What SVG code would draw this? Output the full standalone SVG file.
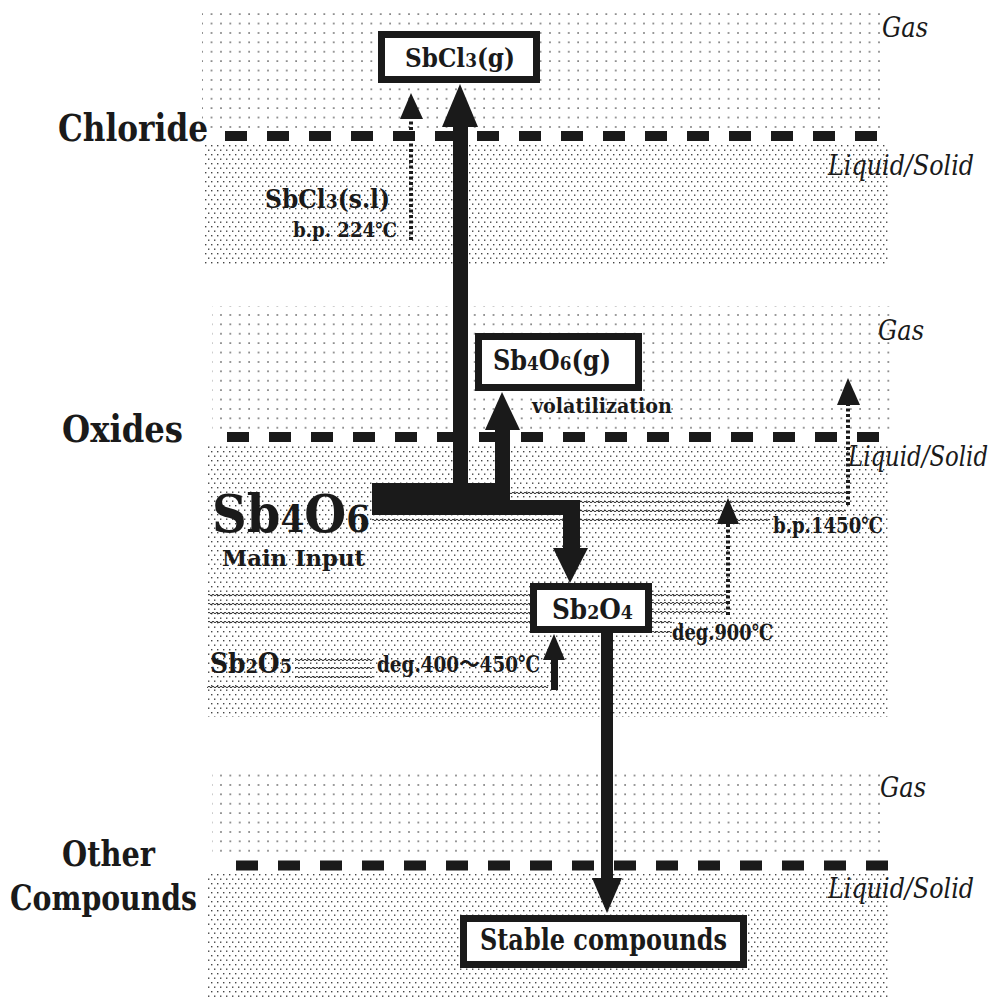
<svg xmlns="http://www.w3.org/2000/svg" width="1002" height="1004" viewBox="0 0 1002 1004">
<defs>
<pattern id="gas" width="9.4" height="9.4" patternUnits="userSpaceOnUse"><rect x="4" y="4" width="1.5" height="1.5" fill="#555"/></pattern>
<pattern id="liq" width="6" height="9" patternUnits="userSpaceOnUse"><rect x="1" y="1" width="1.4" height="1.4" fill="#444"/><rect x="4" y="5.5" width="1.4" height="1.4" fill="#444"/></pattern>
<pattern id="wave" width="4" height="4" patternUnits="userSpaceOnUse"><path d="M0 2 Q1 0.6 2 2 T4 2" fill="none" stroke="#222" stroke-width="1"/></pattern>
<style>
.gas{fill:url(#gas)}
.liq{fill:url(#liq)}
.dash{stroke:#1a1a1a;stroke-width:10;stroke-dasharray:22 20;fill:none}
.box{fill:#fff;stroke:#1a1a1a;stroke-width:7}
.b{font-family:"DejaVu Serif Condensed","DejaVu Serif","Liberation Serif","Noto Sans CJK JP",serif;font-weight:bold;fill:#1a1a1a}
.i{font-family:"DejaVu Serif Condensed","DejaVu Serif","Liberation Serif",serif;font-style:italic;fill:#1a1a1a}
.solid{fill:#1a1a1a}
.dot{stroke:#1a1a1a;stroke-width:4;stroke-dasharray:3 2.5;fill:none}
.wv{fill:url(#wave)}
</style>
</defs>
<rect width="1002" height="1004" fill="#fff"/>
<g id="phases">
<rect class="gas" x="202" y="10" width="680" height="120"/>
<rect class="liq" x="204" y="143" width="684" height="121"/>
<rect class="gas" x="212" y="306" width="678" height="126"/>
<rect class="liq" x="208" y="445" width="680" height="272"/>
<rect class="gas" x="212" y="773" width="670" height="86"/>
<rect class="liq" x="208" y="873" width="680" height="127"/>
<line class="dash" x1="225" y1="136" x2="878" y2="136"/>
<line class="dash" x1="227" y1="437" x2="884" y2="437"/>
<line class="dash" x1="236" y1="865.5" x2="892" y2="865.5"/>
<text class="i" x="882" y="37" font-size="28" textLength="46" lengthAdjust="spacingAndGlyphs">Gas</text>
<text class="i" x="828" y="175" font-size="28" textLength="146" lengthAdjust="spacingAndGlyphs">Liquid/Solid</text>
<text class="i" x="878" y="340" font-size="28" textLength="46" lengthAdjust="spacingAndGlyphs">Gas</text>
<text class="i" x="848" y="466" font-size="28" textLength="140" lengthAdjust="spacingAndGlyphs">Liquid/Solid</text>
<text class="i" x="880" y="797" font-size="28" textLength="46" lengthAdjust="spacingAndGlyphs">Gas</text>
<text class="i" x="828" y="898" font-size="28" textLength="146" lengthAdjust="spacingAndGlyphs">Liquid/Solid</text>
</g>
<g id="waves">
<rect class="wv" x="510" y="0" width="336" height="4" transform="translate(0,491)"/>
<rect class="wv" x="580" y="0" width="266" height="4" transform="translate(0,500)"/>
<rect class="wv" x="580" y="0" width="266" height="4" transform="translate(0,509)"/>
<rect class="wv" x="372" y="0" width="398" height="4" transform="translate(0,518)"/>
<rect class="wv" x="208" y="0" width="322" height="4" transform="translate(0,593)"/>
<rect class="wv" x="208" y="0" width="322" height="4" transform="translate(0,602)"/>
<rect class="wv" x="208" y="0" width="322" height="4" transform="translate(0,611)"/>
<rect class="wv" x="208" y="0" width="322" height="4" transform="translate(0,620)"/>
<rect class="wv" x="652" y="0" width="75" height="4" transform="translate(0,593)"/>
<rect class="wv" x="652" y="0" width="75" height="4" transform="translate(0,601)"/>
<rect class="wv" x="652" y="0" width="75" height="4" transform="translate(0,610)"/>
<rect class="wv" x="652" y="0" width="20" height="4" transform="translate(0,620)"/>
<rect class="wv" x="652" y="0" width="20" height="4" transform="translate(0,630)"/>
<rect class="wv" x="295" y="0" width="78" height="4" transform="translate(0,658)"/>
<rect class="wv" x="295" y="0" width="78" height="4" transform="translate(0,666)"/>
<rect class="wv" x="295" y="0" width="78" height="4" transform="translate(0,675)"/>
<rect class="wv" x="207" y="0" width="341" height="4" transform="translate(0,685)"/>
</g>
<g id="section-labels">
<text class="b" x="58" y="141" font-size="38" textLength="150" lengthAdjust="spacingAndGlyphs">Chloride</text>
<text class="b" x="62" y="442" font-size="38" textLength="121" lengthAdjust="spacingAndGlyphs">Oxides</text>
<text class="b" x="62" y="866" font-size="36" textLength="93" lengthAdjust="spacingAndGlyphs">Other</text>
<text class="b" x="10" y="910" font-size="36" textLength="187" lengthAdjust="spacingAndGlyphs">Compounds</text>
</g>
<g id="connectors">
<rect class="solid" x="453" y="120" width="15" height="370"/>
<polygon class="solid" points="442,127 478,127 460,84"/>
<rect class="solid" x="495" y="425" width="15" height="65"/>
<polygon class="solid" points="485,430 520,430 502,392"/>
<rect class="solid" x="372" y="483" width="138" height="32"/>
<rect class="solid" x="505" y="500" width="75" height="15"/>
<rect class="solid" x="563" y="500" width="17" height="52"/>
<polygon class="solid" points="553,548 588,548 570,583"/>
<rect class="solid" x="601" y="630" width="12" height="252"/>
<polygon class="solid" points="592,878 622,878 607,913"/>
<rect class="solid" x="551" y="655" width="7" height="35"/>
<polygon class="solid" points="543,660 565,660 554,634"/>
<line class="dot" x1="411" y1="240" x2="411" y2="118"/>
<polygon class="solid" points="400,119 423,119 411,93"/>
<line class="dot" x1="728" y1="615" x2="728" y2="522"/>
<polygon class="solid" points="717,524 739,524 728,498"/>
<line class="dot" x1="848" y1="505" x2="848" y2="403"/>
<polygon class="solid" points="837,405 860,405 848,378"/>
</g>
<g id="sbcl3g">
<rect class="box" x="381.5" y="34.5" width="155" height="45"/>
<text class="b" x="405" y="67" font-size="26" textLength="110" lengthAdjust="spacingAndGlyphs">SbCl<tspan font-size="19">3</tspan>(g)</text>
</g>
<g id="sbcl3sl">
<text class="b" x="265" y="208" font-size="26" textLength="125" lengthAdjust="spacingAndGlyphs">SbCl<tspan font-size="19">3</tspan>(s.l)</text>
<text class="b" x="293" y="237" font-size="20" textLength="104" lengthAdjust="spacingAndGlyphs">b.p. 224℃</text>
</g>
<g id="sb4o6g">
<rect class="box" x="478.5" y="336.5" width="160" height="51"/>
<text class="b" x="493" y="370" font-size="27" textLength="118" lengthAdjust="spacingAndGlyphs">Sb<tspan font-size="19">4</tspan>O<tspan font-size="19">6</tspan>(g)</text>
<text class="b" x="532" y="413" font-size="21" textLength="140" lengthAdjust="spacingAndGlyphs">volatilization</text>
</g>
<g id="sb4o6-main">
<text class="b" x="212" y="532" font-size="52" textLength="158" lengthAdjust="spacingAndGlyphs">Sb<tspan font-size="37">4</tspan>O<tspan font-size="37">6</tspan></text>
<text class="b" x="222" y="566" font-size="23" textLength="143" lengthAdjust="spacingAndGlyphs">Main Input</text>
<text class="b" x="773" y="533" font-size="22" textLength="110" lengthAdjust="spacingAndGlyphs">b.p.1450℃</text>
</g>
<g id="sb2o4">
<rect class="box" x="533.5" y="586.5" width="115" height="43"/>
<text class="b" x="552" y="619" font-size="27" textLength="81" lengthAdjust="spacingAndGlyphs">Sb<tspan font-size="19">2</tspan>O<tspan font-size="19">4</tspan></text>
<text class="b" x="672" y="640" font-size="22" textLength="101" lengthAdjust="spacingAndGlyphs">deg.900℃</text>
</g>
<g id="sb2o5">
<text class="b" x="210" y="673" font-size="27" textLength="82" lengthAdjust="spacingAndGlyphs">Sb<tspan font-size="19">2</tspan>O<tspan font-size="19">5</tspan></text>
<text class="b" x="377" y="672" font-size="23" textLength="163" lengthAdjust="spacingAndGlyphs">deg.400～450℃</text>
</g>
<g id="stable">
<rect class="box" x="463.5" y="918.5" width="280" height="46"/>
<text class="b" x="480" y="950" font-size="29" textLength="247" lengthAdjust="spacingAndGlyphs">Stable compounds</text>
</g>
</svg>
